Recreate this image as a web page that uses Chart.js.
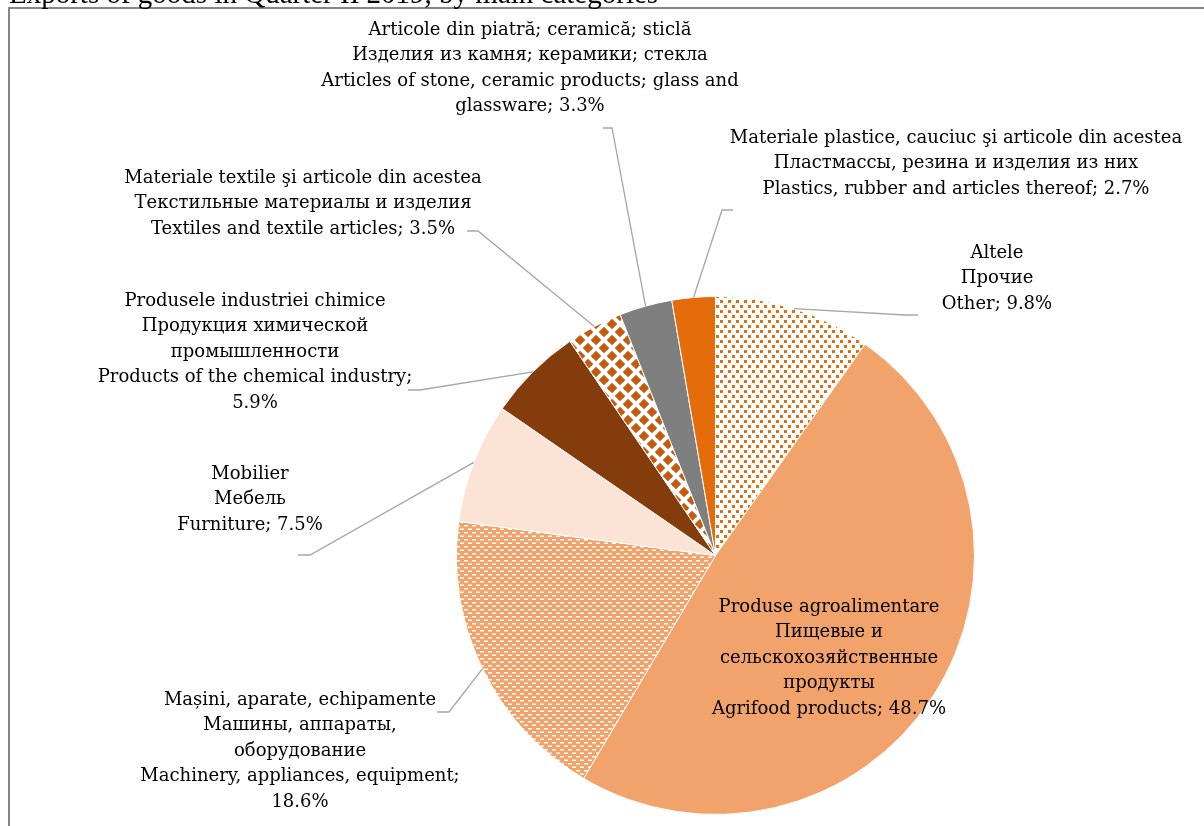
<!DOCTYPE html>
<html>
<head>
<meta charset="utf-8">
<script src="https://cdn.jsdelivr.net/npm/chart.js@4.4.1/dist/chart.umd.min.js"></script>
<style>
  html, body { margin: 0; padding: 0; background: #fff; }
  #wrap { width: 1204px; height: 826px; position: relative; }
</style>
</head>
<body>
<div id="wrap"><canvas id="pie" width="1204" height="826"></canvas></div>
<script>
// categories, clockwise from 12 o'clock
const namesRo = [
  "Altele",
  "Produse agroalimentare",
  "Mașini, aparate, echipamente",
  "Mobilier",
  "Produsele industriei chimice",
  "Materiale textile şi articole din acestea",
  "Articole din piatră; ceramică; sticlă",
  "Materiale plastice, cauciuc şi articole din acestea",
];
const namesRu = [
  "Прочие",
  "Пищевые и\nсельскохозяйственные\nпродукты",
  "Машины, аппараты,\nоборудование",
  "Мебель",
  "Продукция химической\nпромышленности",
  "Текстильные материалы и изделия",
  "Изделия из камня; керамики; стекла",
  "Пластмассы, резина и изделия из них",
];
// {v} gets the share
const namesEn = [
  "Other; {v}",
  "Agrifood products; {v}",
  "Machinery, appliances, equipment;\n{v}",
  "Furniture; {v}",
  "Products of the chemical industry;\n{v}",
  "Textiles and textile articles; {v}",
  "Articles of stone, ceramic products; glass and\nglassware; {v}",
  "Plastics, rubber and articles thereof; {v}",
];
const shares = [9.8, 48.7, 18.6, 7.5, 5.9, 3.5, 3.3, 2.7];

const titleText = "Exports of goods in Quarter II 2019, by main categories";

// fill patterns (Excel-like)
function makePattern(w, h, bg, draw) {
  const c = document.createElement("canvas");
  c.width = w; c.height = h;
  const g = c.getContext("2d");
  g.fillStyle = bg;
  g.fillRect(0, 0, w, h);
  draw(g);
  return g.createPattern(c, "repeat");
}

const dotsOrange = makePattern(8, 10, "#ffffff", (g) => {
  g.fillStyle = "#E46C0A";
  g.fillRect(0, 0, 3, 3);
  g.fillRect(4, 5, 3, 3);
});
const dashesWhite = makePattern(8, 7, "#F2A26B", (g) => {
  g.fillStyle = "#ffffff";
  g.fillRect(0, 0, 4, 1.5);
  g.fillRect(4, 3.5, 4, 1.5);
});
const diamonds = makePattern(16, 16, "#ffffff", (g) => {
  g.fillStyle = "#C55A11";
  const dia = (cx, cy, r) => {
    g.beginPath();
    g.moveTo(cx, cy - r);
    g.lineTo(cx + r, cy);
    g.lineTo(cx, cy + r);
    g.lineTo(cx - r, cy);
    g.closePath();
    g.fill();
  };
  [[4, 4], [12, 12], [-4, 12], [12, -4], [-4, -4], [20, 12], [12, 20], [20, 20], [4, 20], [20, 4]]
    .forEach(([x, y]) => dia(x, y, 5.3));
});

const fills = [dotsOrange, "#F2A26B", dashesWhite, "#FBE4D6", "#843C0C", diamonds, "#7F7F7F", "#E46C0A"];

// label placement: text centre x, first line y, leader elbow / stub
const labelPos = [
  { x: 997, y: 253, elbow: [905, 315], stub: 918 },
  { x: 829, y: 607, elbow: null },
  { x: 300, y: 700, elbow: [449, 712], stub: 437 },
  { x: 250, y: 474, elbow: [310, 555], stub: 298 },
  { x: 255, y: 301, elbow: [420, 390], stub: 408 },
  { x: 303, y: 178, elbow: [478, 231], stub: 467 },
  { x: 530, y: 30, elbow: [612, 128], stub: 603 },
  { x: 956, y: 138, elbow: [722, 210], stub: 733 },
];

function labelLines(i) {
  const v = shares[i].toFixed(1) + "%";
  return (namesRo[i] + "\n" + namesRu[i] + "\n" + namesEn[i].replace("{v}", v)).split("\n");
}

const labelsPlugin = {
  id: "pieLabels",
  afterDatasetsDraw(chart, args, opts) {
    const { ctx } = chart;
    const meta = chart.getDatasetMeta(0);
    ctx.save();
    // leader lines
    ctx.strokeStyle = "#A6A6A6";
    ctx.lineWidth = 1.3;
    meta.data.forEach((arc, i) => {
      const p = labelPos[i];
      if (!p.elbow) return;
      const mid = (arc.startAngle + arc.endAngle) / 2;
      const ex = arc.x + Math.cos(mid) * arc.outerRadius;
      const ey = arc.y + Math.sin(mid) * arc.outerRadius;
      ctx.beginPath();
      ctx.moveTo(ex, ey);
      ctx.lineTo(p.elbow[0], p.elbow[1]);
      ctx.lineTo(p.stub, p.elbow[1]);
      ctx.stroke();
    });
    // texts
    ctx.fillStyle = "#000";
    ctx.font = opts.font;
    ctx.textAlign = "center";
    ctx.textBaseline = "middle";
    meta.data.forEach((arc, i) => {
      const p = labelPos[i];
      labelLines(i).forEach((t, k) => {
        ctx.fillText(t, p.x, p.y + k * opts.lineHeight);
      });
    });
    ctx.restore();
  },
};

// white page, grey frame and the clipped title
const frameplugin = {
  id: "frame",
  beforeDraw(chart) {
    const { ctx, width, height } = chart;
    ctx.save();
    ctx.fillStyle = "#fff";
    ctx.fillRect(0, 0, width, height);
    ctx.strokeStyle = "#868686";
    ctx.lineWidth = 2;
    ctx.strokeRect(9, 8, width + 20, height + 20);
    ctx.fillStyle = "#000";
    ctx.font = "29px 'Liberation Serif'";
    ctx.textAlign = "left";
    ctx.textBaseline = "alphabetic";
    ctx.fillText(titleText, 9, 3);
    ctx.restore();
  },
};

new Chart(document.getElementById("pie"), {
  type: "pie",
  data: {
    labels: namesEn.map((n) => n.split(";")[0]),
    datasets: [{
      data: shares,
      backgroundColor: fills,
      borderColor: "#ffffff",
      borderWidth: 1,
    }],
  },
  options: {
    responsive: false,
    animation: false,
    events: [],
    layout: { padding: { left: 456, right: 229, top: 296, bottom: 11 } },
    plugins: {
      legend: { display: false },
      tooltip: { enabled: false },
      title: { display: false },
      pieLabels: { font: "18px 'DejaVu Serif'", lineHeight: 25.5 },
    },
  },
  plugins: [frameplugin, labelsPlugin],
});
</script>
</body>
</html>
